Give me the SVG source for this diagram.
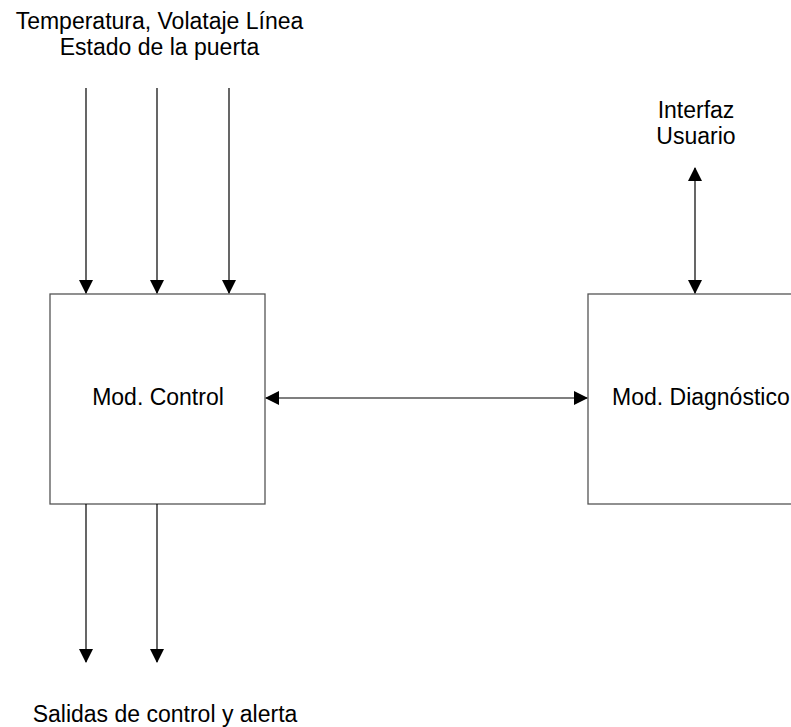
<svg xmlns="http://www.w3.org/2000/svg" width="791" height="727" viewBox="0 0 791 727">
<style>
text{font-family:"Liberation Sans",Arial,sans-serif;font-size:23px;fill:#000}
.box{fill:#fff;stroke:#555;stroke-width:1.3}
.c{stroke:#000;stroke-width:1.2;fill:none}
</style>
<defs>
<marker id="ah" viewBox="0 0 14 14" refX="13" refY="7" markerWidth="14" markerHeight="14" markerUnits="userSpaceOnUse" orient="auto-start-reverse">
<path d="M0,0 L14,7 L0,14 Z" fill="#000"/>
</marker>
</defs>
<rect width="791" height="727" fill="#fff"/>
<g id="ctrl">
<rect class="box" x="50" y="294" width="215" height="210"/>
<text x="158" y="405" text-anchor="middle">Mod. Control</text>
</g>
<g id="diag">
<rect class="box" x="588" y="294" width="220" height="210"/>
<text x="612" y="405">Mod. Diagnóstico</text>
</g>
<g id="labels">
<text x="159.5" y="28.5" text-anchor="middle">Temperatura, Volataje Línea</text>
<text x="159.5" y="54.5" text-anchor="middle">Estado de la puerta</text>
<text x="696" y="117.5" text-anchor="middle">Interfaz</text>
<text x="696" y="144" text-anchor="middle">Usuario</text>
<text x="165" y="722" text-anchor="middle">Salidas de control y alerta</text>
</g>
<g id="connectors">
<line class="c" x1="86" y1="88" x2="86" y2="293" marker-end="url(#ah)"/>
<line class="c" x1="157" y1="88" x2="157" y2="293" marker-end="url(#ah)"/>
<line class="c" x1="229" y1="88" x2="229" y2="293" marker-end="url(#ah)"/>
<line class="c" x1="695" y1="168" x2="695" y2="293" marker-start="url(#ah)" marker-end="url(#ah)"/>
<line class="c" x1="266" y1="398" x2="587" y2="398" marker-start="url(#ah)" marker-end="url(#ah)"/>
<line class="c" x1="86" y1="504" x2="86" y2="662" marker-end="url(#ah)"/>
<line class="c" x1="157" y1="504" x2="157" y2="662" marker-end="url(#ah)"/>
</g>
</svg>
